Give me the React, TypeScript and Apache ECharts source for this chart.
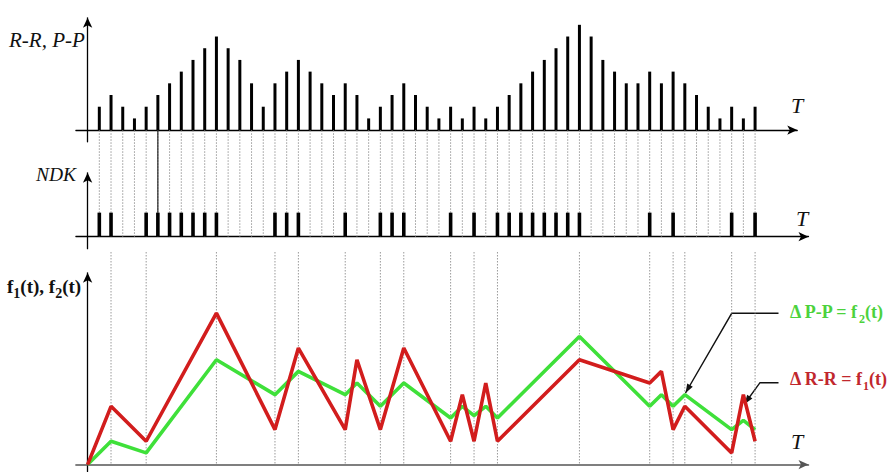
import React, { useEffect, useRef } from 'react';
import * as echarts from 'echarts';

// R-R / P-P interval bars (one per beat, beat k sits at t = k + 1)
const barHeights = [
  2, 3, 2, 1, 2, 3, 4, 5, 6, 7, 8, 7, 6, 4, 2, 4, 5, 6, 5, 4, 3, 4, 3, 1, 2, 3, 4, 3, 2, 1,
  2, 1, 2, 1, 2, 3, 4, 5, 6, 7, 8, 9, 8, 6, 5, 4, 4, 5, 4, 5, 4, 3, 2, 1, 2, 1, 2,
];
// NDK pulses (beat positions t)
const ndkPulses = [1, 2, 5, 6, 7, 8, 9, 10, 11, 16, 17, 18, 22, 25, 26, 27, 31, 33, 35, 36, 37, 38, 39, 40, 41, 42, 48, 50, 55, 57];
// f1(t), f2(t) vertices
const fTimes = [0, 2, 5, 11, 16, 18, 22, 23, 25, 27, 31, 32, 33, 34, 35, 42, 48, 49, 50, 51, 55, 56, 57];
const f1Values = [0, 5, 2, 13, 3, 10, 3, 9, 3, 10, 2, 6, 2, 7, 2, 9, 7, 8, 3, 5, 1, 6, 2]; // ΔR-R
const f2Values = [0, 2, 1, 9, 6, 8, 6, 7, 5, 7, 4, 5, 4.2, 5, 4, 11, 5, 6, 5, 6, 3, 3.8, 3]; // ΔP-P
// vertical guide lines in the lower panel
const bottomGuides = [2, 5, 11, 16, 18, 22, 25, 27, 31, 33, 35, 42, 48, 50, 51, 55, 57];
const solidGuides = [6];

const SERIF = '"Liberation Serif", "DejaVu Serif", serif';
const RED = '#d21d1d';
const GREEN = '#3fe03a';

export default function App() {
  const ref = useRef<HTMLDivElement>(null);

  useEffect(() => {
    if (!ref.current) return;
    const chart = echarts.init(ref.current, null, { renderer: 'svg' });

    const LEFT = 75.9;
    const UX = 11.71;
    const xMin = -1;
    const widthFor = (max: number) => (max - xMin) * UX;

    const topMaxX = 60.6;
    const lowMaxX = 61.56;

    const grids = [
      { left: LEFT, top: 17.8, width: widthFor(topMaxX), height: 10.6 * 11.7 },
      { left: LEFT, top: 172.8, width: widthFor(lowMaxX), height: 3.16 * 24 },
      { left: LEFT, top: 272.8, width: widthFor(lowMaxX), height: 17.06 * 11.65 },
      { left: LEFT, top: 130.3, width: widthFor(lowMaxX), height: 106.3 },
      { left: LEFT, top: 252, width: widthFor(lowMaxX), height: 212.6 },
    ];

    const axisShown = (color: string, width: number) => ({
      show: true,
      onZero: true,
      symbol: ['none', 'arrow'],
      symbolSize: [7, 10],
      lineStyle: { color, width },
    });
    const common = {
      axisTick: { show: false },
      axisLabel: { show: false },
      splitLine: { show: false },
    };

    const xAxis = [
      { gridIndex: 0, type: 'value', min: xMin, max: topMaxX, axisLine: axisShown('#000', 1.3), ...common },
      { gridIndex: 1, type: 'value', min: xMin, max: lowMaxX, axisLine: axisShown('#000', 1.3), ...common },
      { gridIndex: 2, type: 'value', min: xMin, max: lowMaxX, axisLine: axisShown('#555', 1.6), ...common },
      { gridIndex: 3, type: 'value', min: xMin, max: lowMaxX, show: false },
      { gridIndex: 4, type: 'value', min: xMin, max: lowMaxX, show: false },
    ];
    const yAxis = [
      { gridIndex: 0, type: 'value', min: -1, max: 9.6, axisLine: axisShown('#000', 1.3), ...common },
      { gridIndex: 1, type: 'value', min: -0.5, max: 2.66, axisLine: axisShown('#000', 1.3), ...common },
      { gridIndex: 2, type: 'value', min: -0.6, max: 16.46, axisLine: axisShown('#000', 1.3), ...common },
      { gridIndex: 3, type: 'value', min: 0, max: 1, show: false },
      { gridIndex: 4, type: 'value', min: 0, max: 1, show: false },
    ];

    // each datum: [t, fromFraction, toFraction]
    const guideSeries = (xi: number, data: number[][], dashed: boolean, z: number) => ({
      type: 'custom',
      xAxisIndex: xi,
      yAxisIndex: xi,
      z,
      silent: true,
      encode: { x: 0, y: 1 },
      data,
      renderItem: (_p: any, api: any) => {
        const t = api.value(0);
        const a = api.coord([t, api.value(1)]);
        const b = api.coord([t, api.value(2)]);
        return {
          type: 'line',
          shape: { x1: a[0], y1: a[1], x2: b[0], y2: b[1] },
          style: dashed
            ? { stroke: '#9a9a9a', lineWidth: 1, lineDash: [1.5, 1.5] }
            : { stroke: '#111', lineWidth: 1.1 },
        };
      },
    });

    const topGuides = barHeights.map((_, i) => [i + 1, 1, 0]);
    const solid = solidGuides.map((t) => [t, 1, 0.225]);
    const lowGuides = bottomGuides.map((t) => [t, 1, 0]);

    // annotation arrows
    const arrowHead = (tip: number[], from: number[]) => {
      const dx = tip[0] - from[0];
      const dy = tip[1] - from[1];
      const len = Math.hypot(dx, dy);
      const ux = dx / len, uy = dy / len;
      const L = 9, W = 3.2;
      const bx = tip[0] - ux * L, by = tip[1] - uy * L;
      return [
        [tip[0], tip[1]],
        [bx - uy * W, by + ux * W],
        [bx + uy * W, by - ux * W],
      ];
    };
    const ppBend = [731.7, 313.3];
    const ppTip = [685.5, 393];
    const rrBend = [760, 382.7];
    const rrTip = [744.5, 404];

    const labelFont = (size: number, style: string, weight: string) => ({
      fontFamily: SERIF,
      fontSize: size,
      fontStyle: style,
      fontWeight: weight,
    });

    const subRich = (color: string, big: number, small: number) => ({
      b: { ...labelFont(big, 'normal', 'bold'), fill: color, color, lineHeight: big + 4, verticalAlign: 'top' },
      s: { ...labelFont(small, 'normal', 'bold'), fill: color, color, lineHeight: small, verticalAlign: 'bottom' },
    });

    const graphic = [
      { type: 'text', left: 9, top: 29, style: { text: 'R-R, P-P', ...labelFont(21, 'italic', 'normal'), fill: '#111' } },
      { type: 'text', left: 36, top: 164, style: { text: 'NDK', ...labelFont(19.5, 'italic', 'normal'), fill: '#111' } },
      { type: 'text', left: 791, top: 94, style: { text: 'T', ...labelFont(22, 'italic', 'normal'), fill: '#111' } },
      { type: 'text', left: 796, top: 207, style: { text: 'T', ...labelFont(22, 'italic', 'normal'), fill: '#111' } },
      { type: 'text', left: 791, top: 430, style: { text: 'T', ...labelFont(22, 'italic', 'normal'), fill: '#111' } },
      {
        type: 'text', left: 7, top: 277,
        style: { text: '{b|f}{s|1}{b|(t), f}{s|2}{b|(t)}', rich: subRich('#111', 19, 14) },
      },
      {
        type: 'text', left: 790, top: 303,
        style: { text: '{b|Δ P-P = f}{s|2}{b|(t)}', rich: subRich('#4cd23c', 18, 12) },
      },
      {
        type: 'text', left: 790, top: 370,
        style: { text: '{b|Δ R-R = f}{s|1}{b|(t)}', rich: subRich('#c1272d', 18, 12) },
      },
      {
        type: 'polyline',
        shape: { points: [[778.5, 313.3], ppBend, ppTip] },
        style: { stroke: '#111', lineWidth: 1.4, fill: 'none' },
      },
      { type: 'polygon', shape: { points: arrowHead(ppTip, ppBend) }, style: { fill: '#111' } },
      {
        type: 'polyline',
        shape: { points: [[778.5, 382.7], rrBend, rrTip] },
        style: { stroke: '#111', lineWidth: 1.4, fill: 'none' },
      },
      { type: 'polygon', shape: { points: arrowHead(rrTip, rrBend) }, style: { fill: '#111' } },
    ];

    chart.setOption({
      animation: false,
      backgroundColor: '#fff',
      grid: grids,
      xAxis,
      yAxis,
      graphic,
      series: [
        guideSeries(3, topGuides, true, 1),
        guideSeries(4, lowGuides, true, 1),
        {
          type: 'bar',
          xAxisIndex: 0,
          yAxisIndex: 0,
          barWidth: 3,
          itemStyle: { color: '#000' },
          data: barHeights.map((h, i) => [i + 1, h]),
          z: 3,
        },
        {
          type: 'bar',
          xAxisIndex: 1,
          yAxisIndex: 1,
          barWidth: 3.6,
          itemStyle: { color: '#000' },
          data: ndkPulses.map((t) => [t, 1]),
          z: 3,
        },
        {
          type: 'line',
          name: 'ΔP-P',
          xAxisIndex: 2,
          yAxisIndex: 2,
          showSymbol: false,
          lineStyle: { color: GREEN, width: 3.6 },
          data: fTimes.map((t, i) => [t, f2Values[i]]),
          z: 4,
        },
        {
          type: 'line',
          name: 'ΔR-R',
          xAxisIndex: 2,
          yAxisIndex: 2,
          showSymbol: false,
          lineStyle: { color: RED, width: 3.6 },
          data: fTimes.map((t, i) => [t, f1Values[i]]),
          z: 5,
        },
        guideSeries(3, solid, false, 6),
      ],
    });

    return () => chart.dispose();
  }, []);

  return <div ref={ref} style={{ position: 'fixed', left: 0, top: 0, width: 888, height: 472 }} />;
}
